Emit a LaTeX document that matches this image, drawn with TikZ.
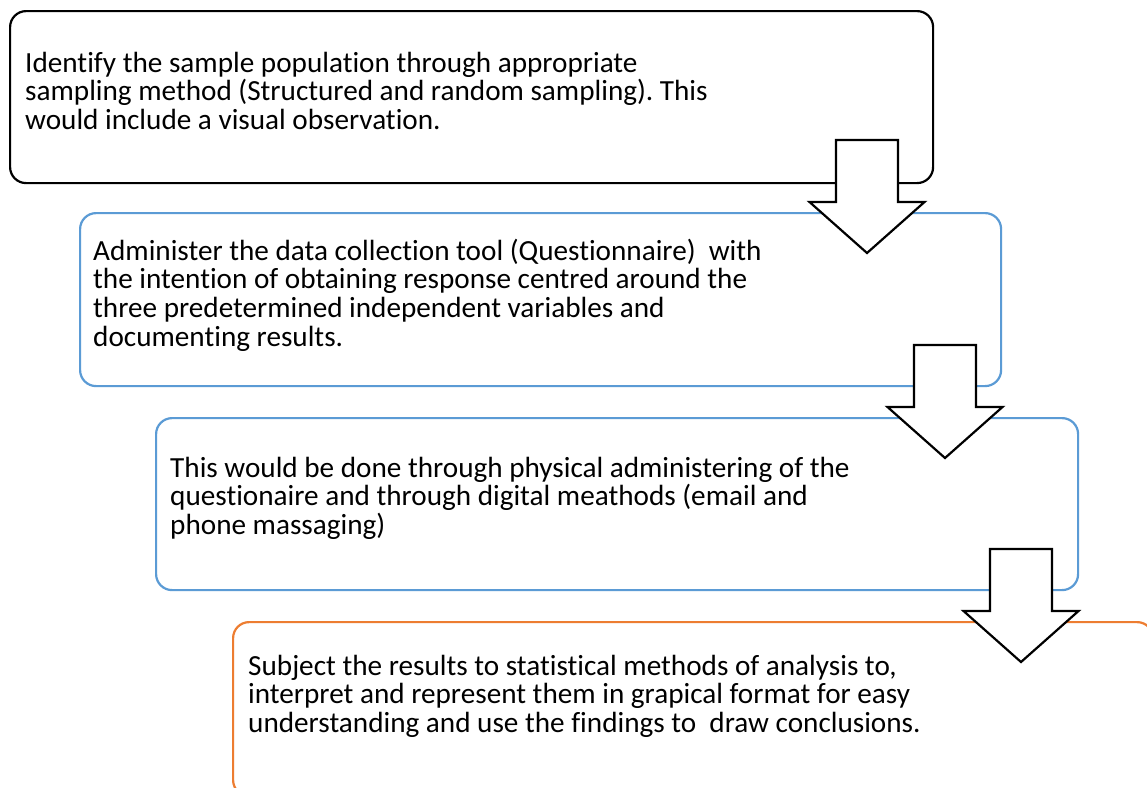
\documentclass[tikz,border=0pt]{standalone}
\usepackage{fontspec}
\setmainfont{Carlito}[Ligatures={NoCommon}]
\definecolor{boxblue}{HTML}{5B9BD5}
\definecolor{boxorange}{HTML}{ED7D31}
\frenchspacing
\newcommand\textlines[1]{\vtop{\baselineskip=28.7pt\lineskiplimit=-100pt\lineskip=0pt #1}}
\begin{document}
\begin{tikzpicture}[x=1pt,y=-1pt,
  box/.style={rounded corners=16pt, line width=2.2pt, fill=white, anchor=north west, inner sep=0pt},
  blockarrow/.style={draw=black, fill=white, line width=2.2pt, line join=miter},
  txt/.style={anchor=base west, inner sep=0pt, font=\fontsize{29.2}{28.7}\selectfont},
  flowarr/.pic={\draw[blockarrow] (-31,0) -- (31,0) -- (31,62) -- (57.5,62) -- (0,113) -- (-57.5,62) -- (-31,62) -- cycle;}]
\useasboundingbox (0,0) rectangle (1147,787);
\clip (0,0) rectangle (1147,787);
\fill[white] (0,0) rectangle (1147,787);
% boxes
\node[box, draw=black, minimum width=923pt, minimum height=172pt] (b1) at (9,10) {};
\node[box, draw=boxblue, minimum width=921pt, minimum height=173pt] (b2) at (79,212) {};
\node[box, draw=boxblue, minimum width=922pt, minimum height=172pt] (b3) at (155,417) {};
\node[box, draw=boxorange, minimum width=920pt, minimum height=174pt] (b4) at (232,621) {};
% texts
\node[txt] (t1) at (25,72) {\textlines{\hbox{Identify the sample population through appropriate}\hbox{sampling method (Structured and random sampling). This}\hbox{would include a visual observation.}}};
\node[txt] (t2) at (93,260) {\textlines{\hbox{Administer the data collection tool (Questionnaire)\ \ with}\hbox{the intention of obtaining response centred around the}\hbox{three predetermined independent variables and}\hbox{documenting results.}}};
\node[txt] (t3) at (170,477) {\textlines{\hbox{This would be done through physical administering of the}\hbox{questionaire and through digital meathods (email and}\hbox{phone massaging)}}};
\node[txt] (t4) at (248,675) {\textlines{\hbox{Subject the results to statistical methods of analysis to,}\hbox{interpret and represent them in grapical format for easy}\hbox{understanding and use the findings to\ \ draw conclusions.}}};
% arrows
\pic at (867,140) {flowarr};
\pic at (945,345) {flowarr};
\pic at (1021,549) {flowarr};
\end{tikzpicture}
\end{document}
